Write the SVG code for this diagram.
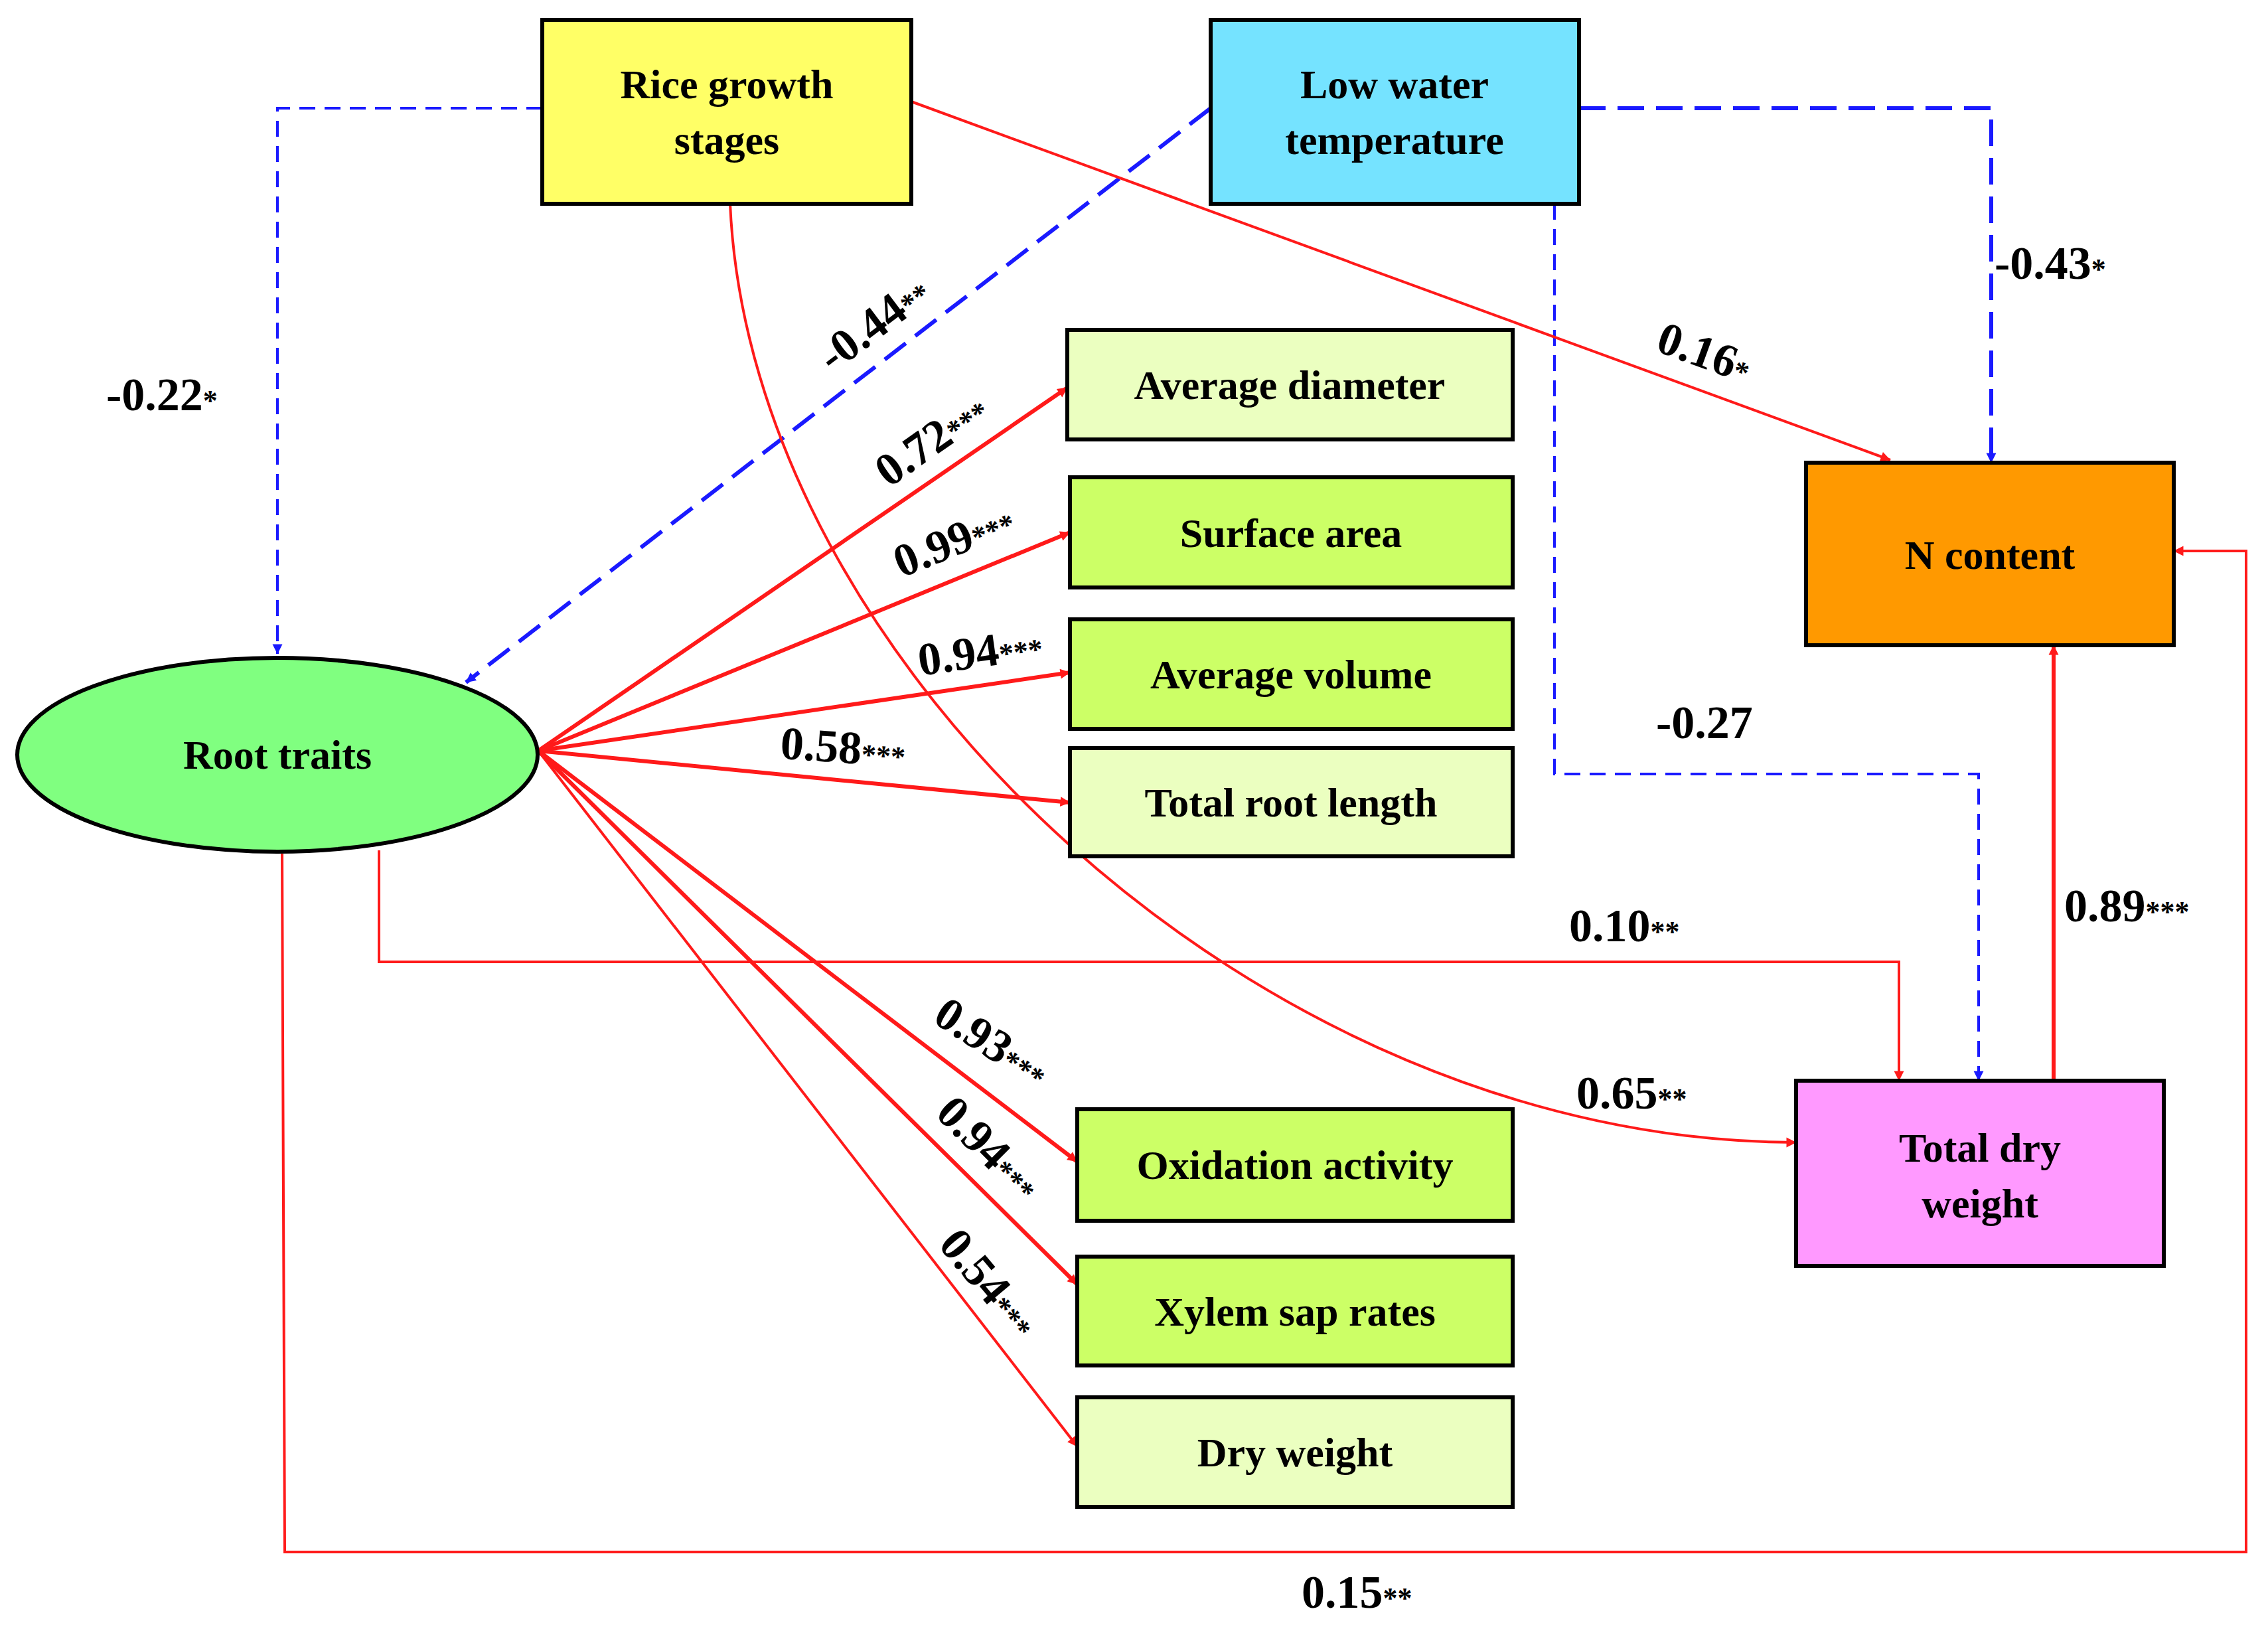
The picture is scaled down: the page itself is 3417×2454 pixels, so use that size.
<svg xmlns="http://www.w3.org/2000/svg" width="3417" height="2454" viewBox="0 0 3417 2454">
<style>
.n{stroke:#000;stroke-width:6}
.t{font-family:"Liberation Serif",serif;font-weight:bold;font-size:62px;text-anchor:middle}
.l{font-family:"Liberation Serif",serif;font-weight:bold;font-size:70px}
.s{font-size:44px}
.r{fill:none;stroke:#FF1A1A;stroke-width:6}
.rt{fill:none;stroke:#FF1A1A;stroke-width:4}
.b{fill:none;stroke:#1A1AFF;stroke-width:4;stroke-dasharray:24 14}
.bt{fill:none;stroke:#1A1AFF;stroke-width:6;stroke-dasharray:40 18}
</style>
<defs>
<marker id="ar" viewBox="0 0 10 10" refX="9" refY="5" markerWidth="5" markerHeight="5" markerUnits="userSpaceOnUse" orient="auto" style="overflow:visible"><path d="M0,0 L10,5 L0,10 z" fill="#FF1A1A" transform="scale(3)" transform-origin="10 5"/></marker>
<marker id="ab" viewBox="0 0 10 10" refX="9" refY="5" markerWidth="5" markerHeight="5" markerUnits="userSpaceOnUse" orient="auto" style="overflow:visible"><path d="M0,0 L10,5 L0,10 z" fill="#1A1AFF" transform="scale(3)" transform-origin="10 5"/></marker>
</defs>
<rect width="3417" height="2454" fill="#fff"/>
<g id="connectors">
<path class="b" d="M817,163 H418 V985" marker-end="url(#ab)"/>
<path class="bt" d="M1824,163 L702,1028" marker-end="url(#ab)"/>
<path class="bt" d="M2379,163 H3000 V697" marker-end="url(#ab)"/>
<path class="b" d="M2342,307 V1166 H2981 V1628" marker-end="url(#ab)"/>
<path class="rt" d="M1373,153 L2848,693" marker-end="url(#ar)"/>
<path class="rt" stroke="#FF3300" d="M1100,307 C1130,1000 1900,1720 2706,1721" marker-end="url(#ar)"/>
<path class="r" d="M811,1131 L1608,584" marker-end="url(#ar)"/>
<path class="r" d="M811,1131 L1612,802" marker-end="url(#ar)"/>
<path class="r" d="M811,1131 L1612,1013" marker-end="url(#ar)"/>
<path class="r" d="M811,1131 L1612,1209" marker-end="url(#ar)"/>
<path class="r" d="M811,1131 L1623,1750" marker-end="url(#ar)"/>
<path class="r" d="M811,1131 L1623,1935" marker-end="url(#ar)"/>
<path class="rt" d="M811,1131 L1623,2179" marker-end="url(#ar)"/>
<path class="rt" stroke="#FF5050" d="M571,1281 V1449 H2861 V1628" marker-end="url(#ar)"/>
<path class="rt" d="M425,1286 L429,2338 H3384 V830 H3275" marker-end="url(#ar)"/>
<path class="r" stroke-width="8" d="M3094,1628 V972" marker-end="url(#ar)"/>
</g>
<g id="rice"><rect class="n" x="817" y="30" width="556" height="277" fill="#FFFF66"/><text class="t" x="1095" y="148">Rice growth</text><text class="t" x="1095" y="232">stages</text></g>
<g id="lowwater"><rect class="n" x="1824" y="30" width="555" height="277" fill="#75E3FF"/><text class="t" x="2101" y="148">Low water</text><text class="t" x="2101" y="232">temperature</text></g>
<g id="avgdiam"><rect class="n" x="1608" y="497" width="671" height="165" fill="#EBFFC0"/><text class="t" x="1943" y="601">Average diameter</text></g>
<g id="surface"><rect class="n" x="1612" y="719" width="667" height="166" fill="#CCFF66"/><text class="t" x="1945" y="824">Surface area</text></g>
<g id="avgvol"><rect class="n" x="1612" y="933" width="667" height="165" fill="#CCFF66"/><text class="t" x="1945" y="1037">Average volume</text></g>
<g id="trl"><rect class="n" x="1612" y="1127" width="667" height="163" fill="#EBFFC0"/><text class="t" x="1945" y="1230">Total root length</text></g>
<g id="oxid"><rect class="n" x="1623" y="1671" width="656" height="168" fill="#CCFF66"/><text class="t" x="1951" y="1776">Oxidation activity</text></g>
<g id="xylem"><rect class="n" x="1623" y="1893" width="656" height="164" fill="#CCFF66"/><text class="t" x="1951" y="1997">Xylem sap rates</text></g>
<g id="dryw"><rect class="n" x="1623" y="2105" width="656" height="165" fill="#EBFFC0"/><text class="t" x="1951" y="2209">Dry weight</text></g>
<g id="ncontent"><rect class="n" x="2721" y="697" width="554" height="275" fill="#FF9900"/><text class="t" x="2998" y="857">N content</text></g>
<g id="tdw"><rect class="n" x="2706" y="1628" width="554" height="279" fill="#FF99FF"/><text class="t" x="2983" y="1750">Total dry</text><text class="t" x="2983" y="1834">weight</text></g>
<g id="root"><ellipse class="n" cx="418" cy="1137" rx="392" ry="146" fill="#80FF80"/><text class="t" x="418" y="1158">Root traits</text></g>
<g id="labels" class="l">
<text x="160" y="618">-0.22<tspan class="s">*</tspan></text>
<text transform="translate(1318,490) rotate(-37)" text-anchor="middle" y="20">-0.44<tspan class="s">**</tspan></text>
<text x="3005" y="420">-0.43<tspan class="s">*</tspan></text>
<text transform="translate(2567,534) rotate(20)" text-anchor="middle" y="20">0.16<tspan class="s">*</tspan></text>
<text transform="translate(1405,665) rotate(-35)" text-anchor="middle" y="20">0.72<tspan class="s">***</tspan></text>
<text transform="translate(1438,817) rotate(-22)" text-anchor="middle" y="20">0.99<tspan class="s">***</tspan></text>
<text transform="translate(1477,985) rotate(-8)" text-anchor="middle" y="20">0.94<tspan class="s">***</tspan></text>
<text transform="translate(1270,1129) rotate(4)" text-anchor="middle" y="20">0.58<tspan class="s">***</tspan></text>
<text x="2495" y="1112">-0.27</text>
<text x="2364" y="1418">0.10<tspan class="s">**</tspan></text>
<text x="3110" y="1388">0.89<tspan class="s">***</tspan></text>
<text x="2375" y="1670">0.65<tspan class="s">**</tspan></text>
<text transform="translate(1493,1573) rotate(33)" text-anchor="middle" y="20">0.93<tspan class="s">***</tspan></text>
<text transform="translate(1488,1732) rotate(45)" text-anchor="middle" y="20">0.94<tspan class="s">***</tspan></text>
<text transform="translate(1488,1935) rotate(50)" text-anchor="middle" y="20">0.54<tspan class="s">***</tspan></text>
<text x="1961" y="2422">0.15<tspan class="s">**</tspan></text>
</g>
</svg>
